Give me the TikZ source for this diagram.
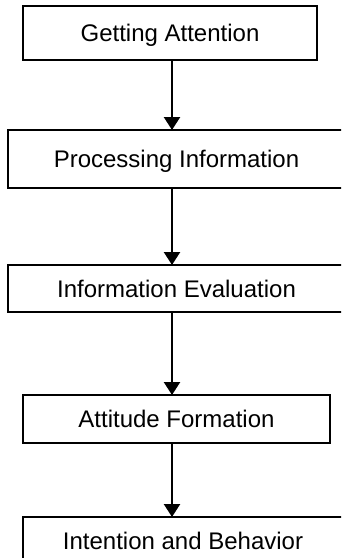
\documentclass[tikz,border=0pt]{standalone}
\usepackage{fontspec}
\setmainfont{Liberation Sans}
\usetikzlibrary{arrows.meta}
\begin{document}
\begin{tikzpicture}[x=1pt,y=1pt,
  stage/.style={draw=black, line width=2pt, rectangle, inner sep=0pt,
    font=\fontsize{24}{28}\selectfont, text height=17.2pt, text depth=0pt},
  arr/.style={line width=2.4pt, -{Triangle[length=13pt,width=16pt]}, shorten >=-1pt}]
\useasboundingbox (0,0) rectangle (341,-558);
\clip (0,0) rectangle (341,-558);
\node[stage, minimum width=294pt, minimum height=54pt] (b1) at (170,-33) {Getting Attention};
\node[stage, minimum width=337pt, minimum height=58pt] (b2) at (176.5,-159) {Processing Information};
\node[stage, minimum width=337pt, minimum height=47pt] (b3) at (176.5,-288.5) {Information Evaluation};
\node[stage, minimum width=307pt, minimum height=48pt] (b4) at (176.5,-419) {Attitude Formation};
\node[stage, minimum width=320pt, minimum height=48pt] (b5) at (183,-541) {Intention and Behavior};
\coordinate (ax) at (172,0);
\draw[arr] (b1.south -| ax) -- (b2.north -| ax);
\draw[arr] (b2.south -| ax) -- (b3.north -| ax);
\draw[arr] (b3.south -| ax) -- (b4.north -| ax);
\draw[arr] (b4.south -| ax) -- (b5.north -| ax);
\end{tikzpicture}
\end{document}
